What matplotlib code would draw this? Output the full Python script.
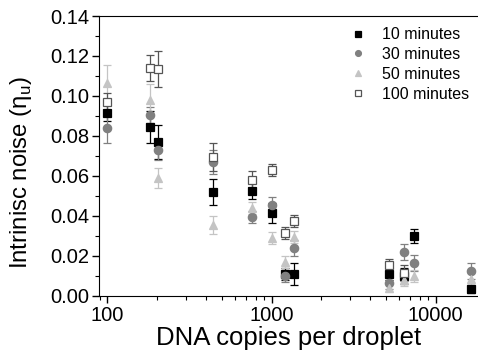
import numpy as np
import matplotlib
matplotlib.use("Agg")
import matplotlib.pyplot as plt

plt.rcParams['font.family'] = ['Liberation Sans', 'DejaVu Sans']
plt.rcParams['mathtext.fontset'] = 'custom'
plt.rcParams['mathtext.rm'] = 'Liberation Sans'

# DNA copies per droplet (one value per measured cluster)
copies = [100, 182, 204, 440, 760, 1000, 1210, 1370, 5200, 6420, 7380, 16400]
nan = np.nan

# noise values and errors per incubation time
eta_10 = [0.0915, 0.0845, 0.077, 0.052, 0.0525, 0.0415, 0.011, 0.011, 0.011, 0.010, 0.030, 0.0035]
err_10 = [0.004, 0.008, 0.0085, 0.0065, 0.004, 0.005, 0.003, 0.0055, 0.003, 0.004, 0.0035, 0.002]
eta_30 = [0.084, 0.0905, 0.073, 0.067, 0.0395, 0.0455, 0.010, 0.024, 0.0065, 0.022, 0.0165, 0.0125]
err_30 = [0.0075, 0.004, 0.005, 0.006, 0.003, 0.004, 0.003, 0.004, 0.003, 0.004, 0.004, 0.004]
eta_50 = [0.1065, 0.098, 0.059, 0.0355, 0.044, 0.029, 0.017, 0.0295, 0.004, 0.008, 0.010, 0.0085]
err_50 = [0.009, 0.008, 0.005, 0.0045, 0.003, 0.003, 0.003, 0.003, 0.002, 0.003, 0.003, 0.003]
eta_100 = [0.097, 0.114, 0.1135, 0.0695, 0.058, 0.063, 0.0315, 0.0375, 0.0155, 0.0115, nan, nan]
err_100 = [0.0045, 0.0065, 0.009, 0.007, 0.0045, 0.003, 0.003, 0.003, 0.003, 0.004, nan, nan]

labels = ['10 minutes', '30 minutes', '50 minutes', '100 minutes']

fig = plt.figure(figsize=(4.78, 3.56), dpi=100)
ax = fig.add_axes([0.208, 0.169, 0.792, 0.786])

series = [
    (eta_10, err_10, 's', 'black', 'black'),
    (eta_30, err_30, 'o', '#808080', '#808080'),
    (eta_50, err_50, '^', '#c4c4c4', '#c4c4c4'),
    (eta_100, err_100, 's', 'white', '#555555'),
]

for (vals, errs, mk, fc, ec), lab in zip(series, labels):
    ax.errorbar(copies, vals, yerr=errs, fmt='none', ecolor=ec,
                elinewidth=0.9, capsize=3, capthick=0.9, zorder=2)
    ax.plot(copies, vals, linestyle='none', marker=mk, markersize=6,
            markerfacecolor=fc, markeredgecolor=ec, markeredgewidth=0.9,
            label=lab, zorder=3)

ax.set_xscale('log')
ax.set_xlim(89.3, 18100)
ax.set_ylim(0, 0.14)
ax.set_yticks(np.arange(0, 0.141, 0.02))
ax.set_yticks(np.arange(0, 0.141, 0.01), minor=True)
ax.yaxis.set_major_formatter(matplotlib.ticker.FormatStrFormatter('%.2f'))
ax.set_xticks([100, 1000, 10000])
ax.set_xticklabels(['100', '1000', '10000'])

ax.spines['right'].set_visible(False)
ax.tick_params(axis='both', which='major', direction='out', length=5, width=1,
               labelsize=14.5, top=False, right=False, pad=2)
ax.tick_params(axis='both', which='minor', direction='out', length=3, width=0.8,
               top=False, right=False)

ax.set_xlabel('DNA copies per droplet', fontsize=18.5, labelpad=1)
ax.set_ylabel('Intrinisc noise (η$_\\mathregular{u}$)', fontsize=17.2)
ax.yaxis.set_label_coords(-0.172, 0.44)

ax.legend(loc='upper right', frameon=False, fontsize=11.5, markerscale=0.7,
          handlelength=1.0, handletextpad=0.95, labelspacing=0.3,
          borderaxespad=0.3, bbox_to_anchor=(1.005, 1.0))

fig.savefig('out.png', dpi=100)
